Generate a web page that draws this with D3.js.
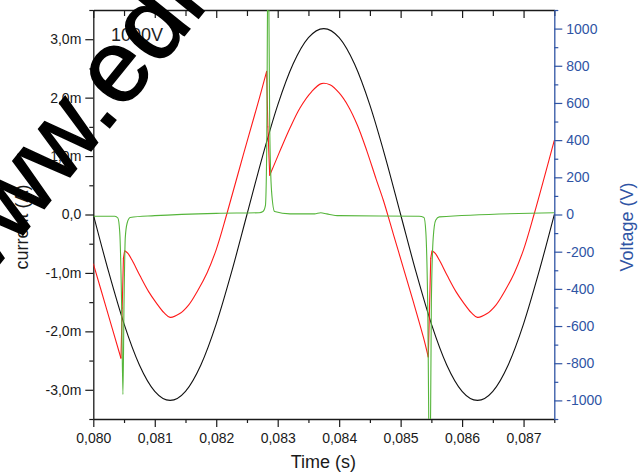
<!DOCTYPE html>
<html>
<head>
<meta charset="UTF-8">
<title>current / voltage vs time</title>
<script src="https://cdn.jsdelivr.net/npm/d3@7"></script>
<style>
  body { margin: 0; background: #fff; }
  text { font-family: Arial, "Liberation Sans", sans-serif; }
</style>
</head>
<body>
<script>
// ---- data ----
// time ticks (s)
var timeTicks = [0.080, 0.081, 0.082, 0.083, 0.084, 0.085, 0.086, 0.087];
var timeLabels = ["0,080", "0,081", "0,082", "0,083", "0,084", "0,085", "0,086", "0,087"];
var timeMinor = [0.0805, 0.0815, 0.0825, 0.0835, 0.0845, 0.0855, 0.0865, 0.0875];

// current axis (mA)
var currentTicks = [-3, -2, -1, 0, 1, 2, 3];
var currentLabels = ["-3,0m", "-2,0m", "-1,0m", "0,0", "1,0m", "2,0m", "3,0m"];
var currentMinor = [-3.5, -2.5, -1.5, -0.5, 0.5, 1.5, 2.5, 3.5];

// voltage axis (V)
var voltTicks = [-1000, -800, -600, -400, -200, 0, 200, 400, 600, 800, 1000];
var voltLabels = ["-1000", "-800", "-600", "-400", "-200", "0", "200", "400", "600", "800", "1000"];
var voltMinor = [-1100, -900, -700, -500, -300, -100, 100, 300, 500, 700, 900, 1100];

// black: voltage (V)
var voltT = [0.08000, 0.08025, 0.08050, 0.08075, 0.08100, 0.08125, 0.08150, 0.08175, 0.08200, 0.08225,
             0.08250, 0.08275, 0.08300, 0.08325, 0.08350, 0.08375, 0.08400, 0.08425, 0.08450, 0.08475,
             0.08500, 0.08525, 0.08550, 0.08575, 0.08600, 0.08625, 0.08650, 0.08675, 0.08700, 0.08725, 0.08750];
var voltV = [0, -309, -588, -809, -951, -1000, -951, -809, -588, -309,
             0, 309, 588, 809, 951, 1000, 951, 809, 588, 309,
             0, -309, -588, -809, -951, -1000, -951, -809, -588, -309, 0];

// red: current (mA)
var redT = [0.08000, 0.08020, 0.08045, 0.08047, 0.08049, 0.08051,
            0.08056, 0.08063, 0.08076, 0.08090, 0.08103, 0.08115, 0.08125, 0.08140, 0.08155, 0.08170,
            0.08185, 0.08200, 0.08217, 0.08244, 0.08271, 0.08282,
            0.08284, 0.08287,
            0.08293, 0.08305, 0.08320, 0.08336, 0.08355, 0.08371, 0.08385, 0.08400, 0.08415, 0.08430,
            0.08445, 0.08460, 0.08472, 0.08488, 0.08504, 0.08520, 0.08537, 0.08545,
            0.08547, 0.08549, 0.08551,
            0.08556, 0.08563, 0.08576, 0.08590, 0.08603, 0.08615, 0.08625, 0.08640, 0.08655, 0.08670,
            0.08685, 0.08700, 0.08717, 0.08750];
var redI = [-0.84, -1.56, -2.46, -1.6, -0.75, -0.62,
            -0.66, -0.78, -1.05, -1.32, -1.52, -1.68, -1.76, -1.70, -1.55, -1.30,
            -1.00, -0.60, 0.00, 1.02, 2.02, 2.45,
            1.5, 0.67,
            0.82, 1.12, 1.48, 1.82, 2.10, 2.24, 2.22, 2.08, 1.85, 1.52,
            1.09, 0.61, 0.24, -0.33, -0.90, -1.47, -2.10, -2.44,
            -1.6, -0.75, -0.62,
            -0.66, -0.78, -1.05, -1.32, -1.52, -1.68, -1.76, -1.70, -1.55, -1.30,
            -1.00, -0.60, 0.00, 1.27];

// green: current (mA)
var greenT = [0.08000, 0.08035, 0.08040, 0.08043, 0.08046, 0.080482, 0.08050, 0.08052, 0.08055, 0.08060,
              0.08100, 0.08200, 0.08270, 0.08276, 0.08280, 0.08282, 0.082845, 0.08287, 0.08290, 0.08295,
              0.08320, 0.08360, 0.08370, 0.08380, 0.08400, 0.08530, 0.08538, 0.08541, 0.08544, 0.085475,
              0.08550, 0.08553, 0.08557, 0.08563, 0.08750];
var greenI = [-0.03, -0.03, -0.06, -0.30, -1.5, -3.08, -1.5, -0.40, -0.15, -0.05,
              -0.02, 0.02, 0.03, 0.05, 0.15, 1.0, 5.0, 1.5, 0.40, 0.05,
              0.01, 0.01, 0.03, 0.01, -0.02, -0.03, -0.05, -0.30, -1.5, -5.0,
              -1.5, -0.40, -0.10, -0.04, 0.03];

// ---- layout ----
var W = 642, H = 475;
var pL = 93.3, pR = 554.3, pT = 10, pB = 419;
var axisBlack = "#1a1a1a", axisBlue = "#2f54a4";

var svg = d3.select("body").append("svg")
  .attr("width", W)
  .attr("height", H);

svg.append("rect").attr("width", W).attr("height", H).attr("fill", "#fff");

var x = d3.scaleLinear().domain([0.080, 0.0875]).range([pL, pR]);
var yI = d3.scaleLinear().domain([-3.5, 3.5]).range([pB, pT]);
var yV = d3.scaleLinear().domain([-1100, 1100]).range([pB, pT]);

function style(g, color) {
  g.selectAll("path.domain").attr("stroke", color).attr("stroke-width", 1.3);
  g.selectAll(".tick line").attr("stroke", color).attr("stroke-width", 1.2);
  g.selectAll(".tick text").attr("fill", color).style("font-size", "14px")
    .style("font-family", "Arial, 'Liberation Sans', sans-serif");
}

// bottom axis
var gx = svg.append("g").attr("transform", "translate(0," + pB + ")")
  .call(d3.axisBottom(x).tickValues(timeTicks).tickSize(8).tickSizeOuter(0).tickPadding(6)
    .tickFormat(function (d, i) { return timeLabels[i]; }));
style(gx, axisBlack);
var gxm = svg.append("g").attr("transform", "translate(0," + pB + ")")
  .call(d3.axisBottom(x).tickValues(timeMinor).tickSize(4).tickSizeOuter(0).tickFormat(""));
style(gxm, axisBlack);
gxm.select("path.domain").remove();

// top axis (ticks inward, no labels)
var gt = svg.append("g").attr("transform", "translate(0," + pT + ")")
  .call(d3.axisBottom(x).tickValues(timeTicks).tickSize(8).tickSizeOuter(0).tickFormat(""));
style(gt, axisBlack);
var gtm = svg.append("g").attr("transform", "translate(0," + pT + ")")
  .call(d3.axisBottom(x).tickValues(timeMinor).tickSize(6).tickSizeOuter(0).tickFormat(""));
style(gtm, axisBlack);
gtm.select("path.domain").remove();

// left axis (current)
var gl = svg.append("g").attr("transform", "translate(" + pL + ",0)")
  .call(d3.axisLeft(yI).tickValues(currentTicks).tickSize(8).tickSizeOuter(0).tickPadding(4)
    .tickFormat(function (d, i) { return currentLabels[i]; }));
style(gl, axisBlack);
var glm = svg.append("g").attr("transform", "translate(" + pL + ",0)")
  .call(d3.axisLeft(yI).tickValues(currentMinor).tickSize(4).tickSizeOuter(0).tickFormat(""));
style(glm, axisBlack);
glm.select("path.domain").remove();

// right axis (voltage)
var gr = svg.append("g").attr("transform", "translate(" + pR + ",0)")
  .call(d3.axisRight(yV).tickValues(voltTicks).tickSize(8).tickSizeOuter(0).tickPadding(4)
    .tickFormat(function (d, i) { return voltLabels[i]; }));
style(gr, axisBlue);
var grm = svg.append("g").attr("transform", "translate(" + pR + ",0)")
  .call(d3.axisRight(yV).tickValues(voltMinor).tickSize(4).tickSizeOuter(0).tickFormat(""));
style(grm, axisBlue);
grm.select("path.domain").remove();

// axis titles
svg.append("text").attr("x", (pL + pR) / 2 - 0.5).attr("y", 468)
  .attr("text-anchor", "middle").attr("fill", axisBlack).style("font-size", "18px")
  .text("Time (s)");
svg.append("text").attr("transform", "translate(28,227) rotate(-90)")
  .attr("text-anchor", "middle").attr("fill", axisBlack).style("font-size", "18px")
  .text("current (A)");
svg.append("text").attr("transform", "translate(633,227) rotate(-90)")
  .attr("text-anchor", "middle").attr("fill", axisBlue).style("font-size", "18px")
  .text("Voltage (V)");

// curves
svg.append("clipPath").attr("id", "plot")
  .append("rect").attr("x", pL).attr("y", pT).attr("width", pR - pL).attr("height", pB - pT);
var plot = svg.append("g").attr("clip-path", "url(#plot)");

var lineV = d3.line().x(function (d, i) { return x(voltT[i]); }).y(function (d) { return yV(d); })
  .curve(d3.curveMonotoneX);

plot.append("path").datum(voltV).attr("d", lineV)
  .attr("fill", "none").attr("stroke", "#111").attr("stroke-width", 1.1);

// smooth runs between the switching jumps, straight lines across the jumps
function drawSplit(ts, vs, y, color) {
  var pts = ts.map(function (t, i) { return [x(t), y(vs[i])]; });
  var runs = [], jumps = [], cur = [pts[0]];
  for (var i = 1; i < pts.length; i++) {
    if (ts[i] - ts[i - 1] < 0.00004) {
      if (cur.length > 1) runs.push(cur);
      jumps.push([pts[i - 1], pts[i]]);
      cur = [pts[i]];
    } else {
      cur.push(pts[i]);
    }
  }
  if (cur.length > 1) runs.push(cur);
  var smooth = d3.line().curve(d3.curveCatmullRom.alpha(0.5));
  var straight = d3.line();
  runs.forEach(function (r) {
    plot.append("path").attr("d", smooth(r)).attr("fill", "none")
      .attr("stroke", color).attr("stroke-width", 1.1);
  });
  jumps.forEach(function (j) {
    plot.append("path").attr("d", straight(j)).attr("fill", "none")
      .attr("stroke", color).attr("stroke-width", 1.1).attr("stroke-linecap", "round");
  });
}
drawSplit(redT, redI, yI, "#ff1a1a");

var lineG = d3.line().x(function (d, i) { return x(greenT[i]); }).y(function (d) { return yI(d); })
  .curve(d3.curveMonotoneX);
plot.append("path").datum(greenI).attr("d", lineG)
  .attr("fill", "none").attr("stroke", "#55b53a").attr("stroke-width", 1.1);

// annotation
svg.append("text").attr("x", 111).attr("y", 41).attr("fill", "#222").style("font-size", "18px")
  .text("1000V");

// watermark drawn over the chart
svg.append("text").attr("transform", "translate(-33,304) rotate(-51)")
  .attr("fill", "#000").attr("stroke", "#000").attr("stroke-width", 1.5)
  .style("font-size", "103px")
  .text("www.edn.com");
</script>
</body>
</html>
